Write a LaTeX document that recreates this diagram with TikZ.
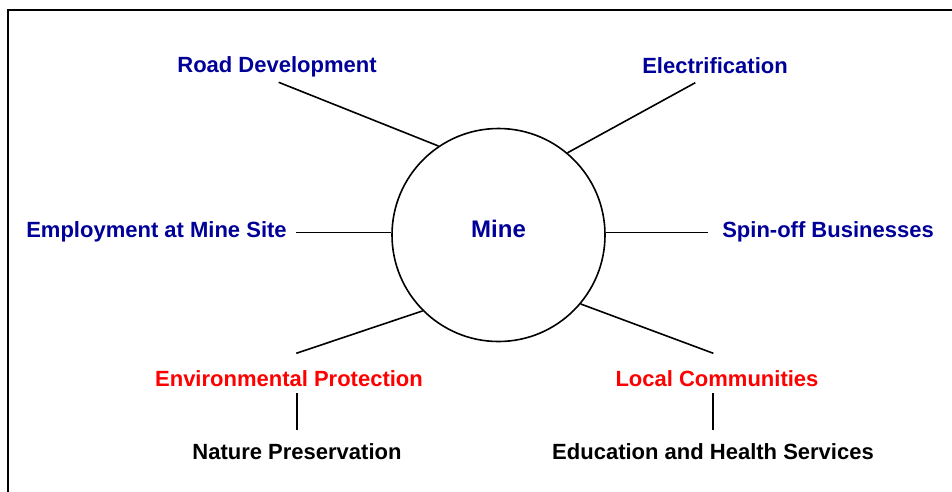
\documentclass[tikz,border=0pt]{standalone}
\usepackage{fontspec}
\setmainfont{Liberation Sans}
\definecolor{topicblue}{RGB}{0,0,153}
\definecolor{topicred}{RGB}{255,0,0}
\begin{document}
\begin{tikzpicture}[x=1pt,y=-1pt,
  label/.style={inner sep=0pt,anchor=base,font=\fontsize{22}{26}\selectfont\bfseries},
  benefit/.style={label,text=topicblue},
  concern/.style={label,text=topicred},
  outcome/.style={label,text=black},
  link/.style={draw=black,line width=1.6pt}]
\clip (0,0) rectangle (952,491);
% page frame (only top and left edges fall inside the page)
\draw[line width=2pt] (8,520) -- (8,10) -- (980,10);

% central hub
\node[circle,draw,line width=1.6pt,minimum size=213pt,inner sep=0pt] (mine) at (498.5,235) {};
\node[benefit,font=\fontsize{24}{28}\selectfont\bfseries] (minelabel) at (498.5,237.3) {Mine};

% surrounding topics
\node[benefit] (road) at (277,72.8) {Road Development};
\node[benefit] (elec) at (715,73.5) {Electrification};
\node[benefit] (employ) at (156.5,237) {Employment at Mine Site};
\node[benefit] (spin) at (828,237) {Spin-off Businesses};
\node[concern] (env) at (289,386.7) {Environmental Protection};
\node[concern] (local) at (717,386.7) {Local Communities};
\node[outcome] (nature) at (297,459) {Nature Preservation};
\node[outcome] (edu) at (713,459) {Education and Health Services};

% free ends of the spokes, just beside each label
\coordinate (roadend) at (278.7,82.3);
\coordinate (elecend) at (695.3,82.7);
\coordinate (employend) at (296,232.3);
\coordinate (spinend) at (707.7,232.3);
\coordinate (envend) at (296.3,353.3);
\coordinate (localend) at (713.3,353.3);
\coordinate (envtop) at (297,393.3);
\coordinate (envbot) at (297,430.3);
\coordinate (localtop) at (712.7,393.3);
\coordinate (localbot) at (712.7,430.3);

% spokes
\draw[link] (mine.124.2) -- (roadend);
\draw[link] (mine.50.6) -- (elecend);
\draw[link] (mine.west |- employend) -- (employend);
\draw[link] (mine.east |- spinend) -- (spinend);
\draw[link] (mine.225.7) -- (envend);
\draw[link] (mine.320.3) -- (localend);
\draw[link] (envtop) -- (envbot);
\draw[link] (localtop) -- (localbot);
\end{tikzpicture}
\end{document}
